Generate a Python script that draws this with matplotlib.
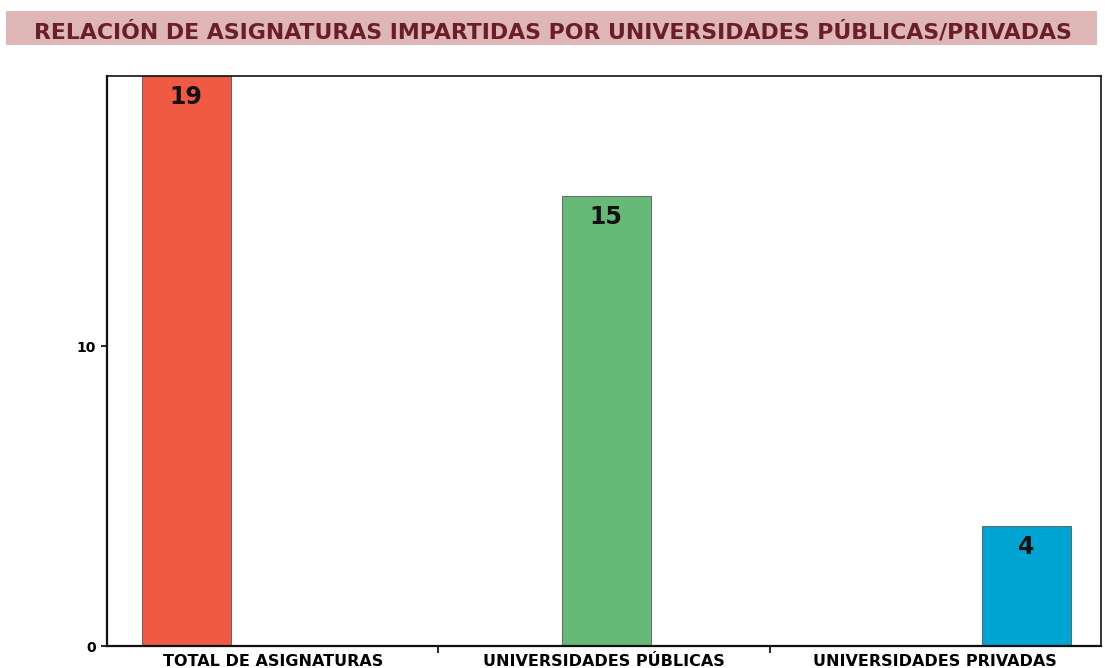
"""Bar chart: asignaturas impartidas por universidades públicas/privadas."""

import matplotlib

matplotlib.use("Agg")
import matplotlib.pyplot as plt
import numpy as np
from matplotlib.patches import Rectangle

TITLE = "RELACIÓN DE ASIGNATURAS IMPARTIDAS POR UNIVERSIDADES PÚBLICAS/PRIVADAS"
CATEGORIES = ["TOTAL DE ASIGNATURAS", "UNIVERSIDADES PÚBLICAS", "UNIVERSIDADES PRIVADAS"]
VALUES = [19, 15, 4]
COLORS = ["#f15a42", "#66b977", "#00a4d3"]
Y_TICKS = [0, 10]

BAR_WIDTH = 0.268


def main():
    fig = plt.figure(figsize=(11.05, 6.68), dpi=100)
    ax = fig.add_axes([0.0968, 0.0329, 0.8996, 0.8533])

    # title band
    fig.patches.append(Rectangle((0.005, 0.933), 0.988, 0.05, transform=fig.transFigure,
                                 facecolor="#dfb6b6", edgecolor="none", zorder=0))
    fig.text(0.5, 0.953, TITLE, ha="center", va="center", fontsize=15.8,
             fontweight="heavy", color="#6a1e28", family="DejaVu Sans")

    positions = np.arange(len(CATEGORIES))
    offsets = (positions - 1) * BAR_WIDTH + 0.007
    ax.bar(positions + offsets, VALUES, width=BAR_WIDTH, color=COLORS,
           edgecolor="#555555", linewidth=0.6, zorder=2)

    for x, v in zip(positions + offsets, VALUES):
        ax.annotate(str(v), (x, v), xytext=(0, -15), textcoords="offset points",
                    ha="center", va="center", fontsize=17, fontweight="heavy",
                    color="#111111", zorder=3)

    ax.set_xlim(-0.5, len(CATEGORIES) - 0.5)
    ax.set_ylim(0, 19)

    ax.set_xticks(positions, CATEGORIES)
    ax.set_xticks(positions[:-1] + 0.5, minor=True)
    ax.tick_params(axis="x", which="major", length=0, pad=6, labelsize=11.5)
    ax.tick_params(axis="x", which="minor", length=5, width=1.2, direction="out")
    for label in ax.get_xticklabels():
        label.set_fontweight("heavy")

    ax.set_yticks(Y_TICKS)
    ax.tick_params(axis="y", length=4, width=1.2, direction="out", pad=4, labelsize=10)
    for label in ax.get_yticklabels():
        label.set_fontweight("heavy")

    for side, spine in ax.spines.items():
        spine.set_linewidth(1.6 if side in ("left", "bottom") else 1.2)
        spine.set_color("#111111")

    fig.savefig("out.png", dpi=100)
    plt.close(fig)


if __name__ == "__main__":
    main()
